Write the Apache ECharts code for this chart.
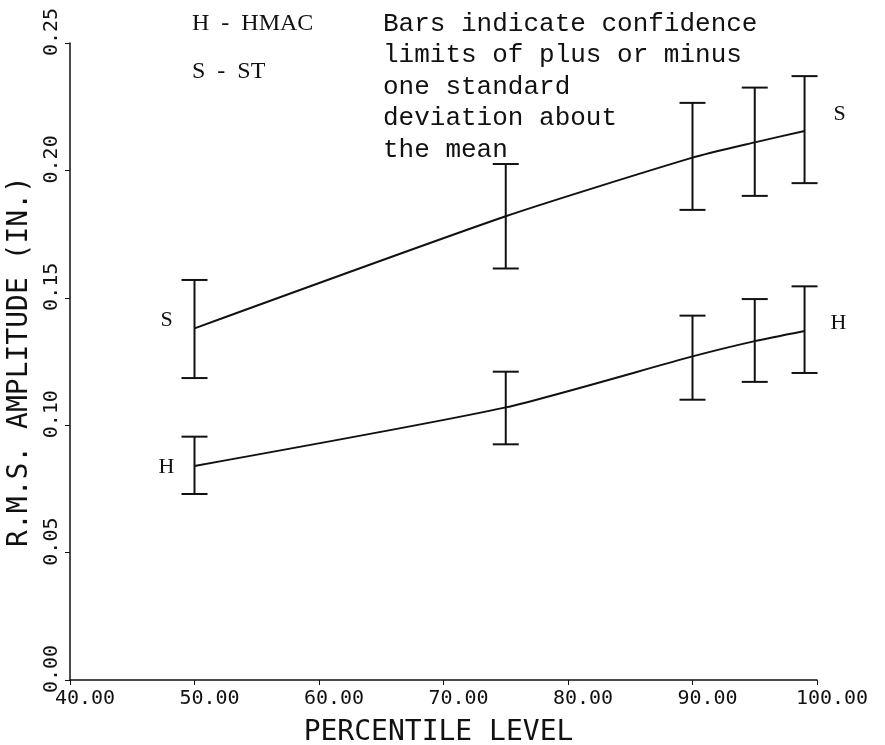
<!DOCTYPE html>
<html>
<head>
<meta charset="utf-8">
<script src="https://cdn.jsdelivr.net/npm/echarts@6/dist/echarts.min.js"></script>
<style>
  html, body { margin: 0; padding: 0; background: #fff; }
  #chart { width: 885px; height: 745px; }
</style>
</head>
<body>
<div id="chart"></div>
<script>
// percentile levels where the means were computed
var levels = [50, 75, 90, 95, 99];

// HMAC: mean and +/- one standard deviation
var hmacMean = [0.084, 0.107, 0.127, 0.133, 0.137];
var hmacLow = [0.073, 0.0925, 0.110, 0.117, 0.1205];
var hmacHigh = [0.0955, 0.121, 0.143, 0.1495, 0.1545];

// ST: mean and +/- one standard deviation
var stMean = [0.138, 0.182, 0.205, 0.211, 0.2155];
var stLow = [0.1185, 0.1615, 0.1845, 0.190, 0.195];
var stHigh = [0.157, 0.2025, 0.2265, 0.2325, 0.237];

var xTicks = [40, 50, 60, 70, 80, 90, 100];
var yTicks = [0, 0.05, 0.10, 0.15, 0.20, 0.25];

var ink = '#111';
var mono = '"DejaVu Sans Mono", monospace';
var serif = '"Liberation Serif", "DejaVu Serif", serif';

/**
 * Builds the points of a mean line, with the series letter placed
 * next to the first and the last point.
 */
function meanData(mean, letter, firstOffset, lastOffset) {
    return levels.map(function (x, i) {
        var item = { value: [x, mean[i]] };
        if (i === 0 || i === levels.length - 1) {
            item.label = {
                show: true,
                formatter: letter,
                position: 'inside',
                offset: i === 0 ? firstOffset : lastOffset,
                fontFamily: serif,
                fontSize: 22,
                color: ink
            };
        }
        return item;
    });
}

function barData(low, high) {
    return levels.map(function (x, i) {
        return [x, low[i], high[i]];
    });
}

/**
 * Draws one error bar: a vertical stroke with a cap at each end.
 */
function renderBar(params, api) {
    var top = api.coord([api.value(0), api.value(2)]);
    var bottom = api.coord([api.value(0), api.value(1)]);
    var half = 13;
    var style = { stroke: ink, lineWidth: 2 };
    return {
        type: 'group',
        children: [
            { type: 'line', shape: { x1: top[0], y1: top[1], x2: bottom[0], y2: bottom[1] }, style: style },
            { type: 'line', shape: { x1: top[0] - half, y1: top[1], x2: top[0] + half, y2: top[1] }, style: style },
            { type: 'line', shape: { x1: bottom[0] - half, y1: bottom[1], x2: bottom[0] + half, y2: bottom[1] }, style: style }
        ]
    };
}

var chart = echarts.init(document.getElementById('chart'));
var options = {
    animation: false,
    backgroundColor: '#fff',
    grid: { left: 70, right: 68, top: 43, bottom: 65, outerBoundsMode: 'none' },
    xAxis: {
        type: 'value',
        min: xTicks[0],
        max: xTicks[xTicks.length - 1],
        interval: 10,
        name: 'PERCENTILE LEVEL',
        nameLocation: 'middle',
        nameGap: 39,
        nameTextStyle: { fontFamily: mono, fontSize: 28, color: ink, padding: [0, 10, 0, 0] },
        axisLine: { lineStyle: { color: ink, width: 1.5 } },
        axisTick: { length: 5, lineStyle: { color: ink } },
        axisLabel: {
            fontFamily: mono,
            fontSize: 20,
            color: ink,
            margin: 9,
            padding: [0, 0, 0, 30],
            showMinLabel: true,
            showMaxLabel: true,
            formatter: function (v) { return v.toFixed(2); }
        },
        splitLine: { show: false }
    },
    yAxis: {
        type: 'value',
        min: yTicks[0],
        max: yTicks[yTicks.length - 1],
        interval: 0.05,
        name: 'R.M.S. AMPLITUDE (IN.)',
        nameLocation: 'middle',
        nameGap: 36,
        nameTextStyle: { fontFamily: mono, fontSize: 28, color: ink },
        axisLine: { show: true, lineStyle: { color: ink, width: 1.5 } },
        axisTick: { show: true, length: 5, lineStyle: { color: ink } },
        axisLabel: {
            fontFamily: mono,
            fontSize: 20,
            color: ink,
            rotate: 90,
            margin: 8,
            padding: [0, 0, 0, 22],
            formatter: function (v) { return v.toFixed(2); }
        },
        splitLine: { show: false }
    },
    graphic: [
        {
            type: 'text', left: 192, top: 12,
            style: { text: 'H  -  HMAC', font: '24px ' + serif, fill: ink }
        },
        {
            type: 'text', left: 192, top: 60,
            style: { text: 'S  -  ST', font: '24px ' + serif, fill: ink }
        },
        {
            type: 'text', left: 383, top: 8,
            style: {
                text: 'Bars indicate confidence\nlimits of plus or minus\none standard\ndeviation about\nthe mean',
                font: '26px "Liberation Mono", monospace',
                lineHeight: 31.5,
                fill: ink
            }
        }
    ],
    series: [
        {
            name: 'HMAC',
            type: 'line',
            smooth: 0.2,
            symbol: 'circle',
            symbolSize: 0,
            lineStyle: { color: ink, width: 2 },
            data: meanData(hmacMean, 'H', [-28, 1], [34, -8])
        },
        {
            name: 'ST',
            type: 'line',
            smooth: 0.2,
            symbol: 'circle',
            symbolSize: 0,
            lineStyle: { color: ink, width: 2 },
            data: meanData(stMean, 'S', [-28, -8], [35, -17])
        },
        {
            name: 'HMAC bars',
            type: 'custom',
            renderItem: renderBar,
            data: barData(hmacLow, hmacHigh),
            z: 3
        },
        {
            name: 'ST bars',
            type: 'custom',
            renderItem: renderBar,
            data: barData(stLow, stHigh),
            z: 3
        }
    ]
};
chart.setOption(options);
</script>
</body>
</html>
